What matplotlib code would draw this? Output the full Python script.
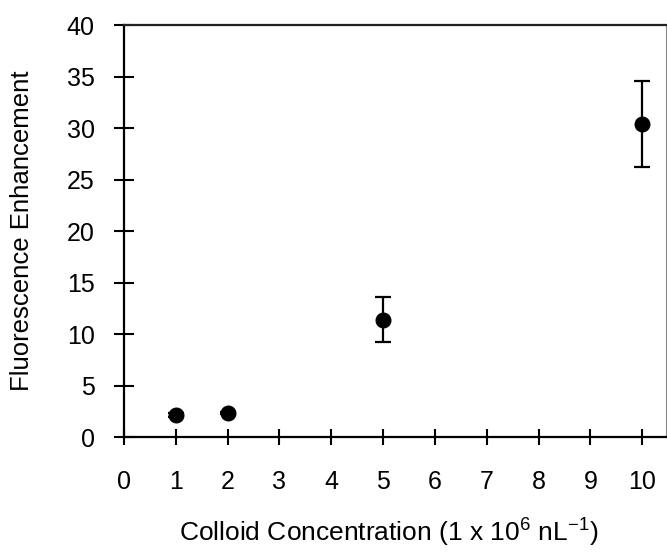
import matplotlib
matplotlib.use('Agg')
import matplotlib.pyplot as plt

plt.rcParams['font.family'] = ['Liberation Sans', 'DejaVu Sans']
plt.rcParams['mathtext.fontset'] = 'custom'
plt.rcParams['mathtext.rm'] = 'Liberation Sans'
plt.rcParams['mathtext.default'] = 'regular'

# colloid concentration vs fluorescence enhancement
conc = [1, 2, 5, 10]
enhancement = [2.1, 2.3, 11.4, 30.4]
err = [0.2, 0.1, 2.2, 4.2]

fig = plt.figure(figsize=(6.67, 5.52), dpi=100)
ax = fig.add_axes([0.186, 0.2083, 0.8125, 0.7464])

ax.errorbar(conc, enhancement, yerr=err, fmt='o', color='black',
            markersize=10.5, elinewidth=1.6, capsize=5.8, capthick=1.6)

ax.set_xlim(0, 10.46)
ax.set_ylim(0, 40)
ax.set_xticks(range(0, 11))
ax.set_yticks(range(0, 41, 5))

ax.tick_params(axis='y', direction='inout', length=14.5, width=1.5,
               pad=14, labelsize=18)
ax.tick_params(axis='x', direction='inout', length=11.5, width=1.5,
               pad=18, labelsize=18)

for side in ['left', 'bottom', 'top']:
    ax.spines[side].set_linewidth(1.6)
    ax.spines[side].set_color('black')
ax.spines['top'].set_color('#222222')
ax.spines['right'].set_linewidth(0.8)
ax.spines['right'].set_color('#888888')

fig.text(0.033, 0.5815, 'Fluorescence Enhancement', rotation=90,
         ha='center', va='center', fontsize=18.5)
fig.text(0.582, 0.018, r'Colloid Concentration (1 x 10$^{6}$ nL$^{-1}$)',
         ha='center', va='baseline', fontsize=19)

fig.savefig('out.png', dpi=100)
